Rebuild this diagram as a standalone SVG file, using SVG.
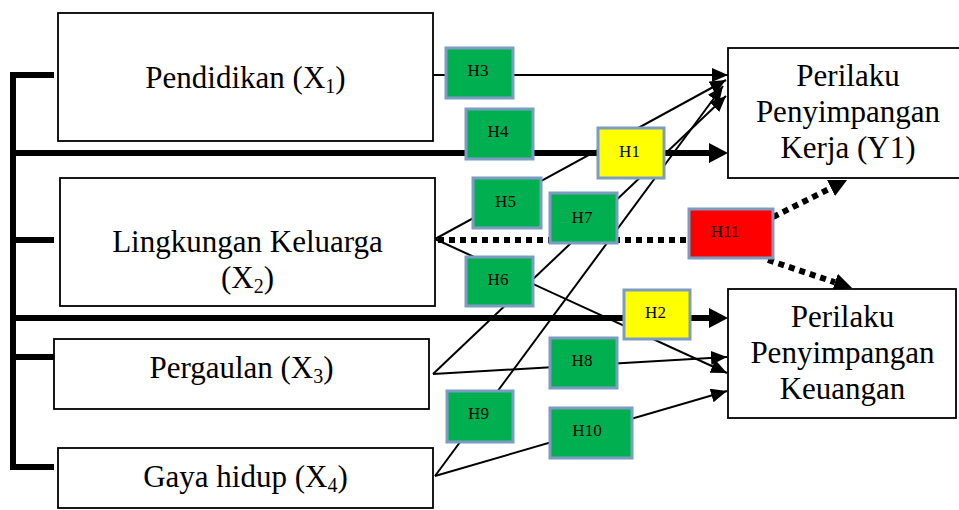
<svg xmlns="http://www.w3.org/2000/svg" width="959" height="510" viewBox="0 0 959 510">
<style>
.node{fill:#fff;stroke:#000;stroke-width:1.8}
.nt{font-family:"Liberation Serif","Times New Roman",serif;font-size:31px;fill:#000;text-anchor:middle}
.hb{stroke:#7d9cc2;stroke-width:3}
.g{fill:#00b050}.y{fill:#ffff00}.r{fill:#ff0000}
.ht{font-family:"Liberation Serif","Times New Roman",serif;font-size:17px;fill:#000;text-anchor:middle}
.thin{stroke:#000;stroke-width:2;fill:none}
.thick{stroke:#000;stroke-width:6;fill:none}
.dot{stroke:#000;stroke-width:6;stroke-dasharray:6 5;fill:none}
</style>
<defs>
<marker id="at" markerUnits="userSpaceOnUse" markerWidth="20" markerHeight="16" refX="16" refY="7" orient="auto">
<path d="M0,0 L16,7 L0,14 z" fill="#000"/>
</marker>
<marker id="ak" markerUnits="userSpaceOnUse" markerWidth="22" markerHeight="22" refX="0" refY="10" orient="auto">
<path d="M0,0 L19,10 L0,20 z" fill="#000"/>
</marker>
<marker id="ad" markerUnits="userSpaceOnUse" markerWidth="22" markerHeight="20" refX="0" refY="9" orient="auto">
<path d="M0,0 L18,9 L0,18 z" fill="#000"/>
</marker>
</defs>

<g id="connectors">
<path class="thick" d="M54,75 H13 V467 H54" stroke-width="5.5" stroke-linejoin="miter"/>
<path class="thick" d="M13,240 H54 M13,357 H54" stroke-width="5.5"/>
<line class="thick" x1="13" y1="153" x2="709" y2="153" marker-end="url(#ak)"/>
<line class="thick" x1="13" y1="318" x2="709" y2="318" marker-end="url(#ak)"/>
<line class="thin" x1="433" y1="75" x2="728" y2="75" marker-end="url(#at)"/>
<line class="thin" x1="435" y1="239" x2="726" y2="80" marker-end="url(#at)"/>
<line class="thin" x1="435" y1="239" x2="727" y2="373" marker-end="url(#at)"/>
<line class="thin" x1="433" y1="374" x2="726" y2="96" marker-end="url(#at)"/>
<line class="thin" x1="433" y1="374" x2="727" y2="357" marker-end="url(#at)"/>
<line class="thin" x1="435" y1="476" x2="723" y2="86" marker-end="url(#at)"/>
<line class="thin" x1="435" y1="476" x2="727" y2="391" marker-end="url(#at)"/>
<line class="dot" x1="438" y1="240" x2="689" y2="240"/>
<line class="dot" x1="773" y1="217" x2="831" y2="188" marker-end="url(#ad)"/>
<line class="dot" x1="768" y1="260" x2="835" y2="282.3" marker-end="url(#ad)"/>
</g>

<g id="x1">
<rect class="node" x="58" y="13" width="375" height="128"/>
<text class="nt" x="245.5" y="88">Pendidikan (X<tspan font-size="20" dy="5">1</tspan><tspan dy="-5">)</tspan></text>
</g>
<g id="x2">
<rect class="node" x="60" y="178" width="375" height="128"/>
<text class="nt" x="247.5" y="252">Lingkungan Keluarga</text>
<text class="nt" x="247.5" y="288">(X<tspan font-size="20" dy="5">2</tspan><tspan dy="-5">)</tspan></text>
</g>
<g id="x3">
<rect class="node" x="54" y="339" width="375" height="70"/>
<text class="nt" x="241.5" y="378">Pergaulan (X<tspan font-size="20" dy="5">3</tspan><tspan dy="-5">)</tspan></text>
</g>
<g id="x4">
<rect class="node" x="58" y="448" width="375" height="60"/>
<text class="nt" x="245.5" y="487">Gaya hidup (X<tspan font-size="20" dy="5">4</tspan><tspan dy="-5">)</tspan></text>
</g>
<g id="y1">
<rect class="node" x="728" y="48" width="235" height="130"/>
<text class="nt" x="848" y="86">Perilaku</text>
<text class="nt" x="848" y="122">Penyimpangan</text>
<text class="nt" x="848" y="158">Kerja (Y1)</text>
</g>
<g id="y2">
<rect class="node" x="728" y="289" width="228" height="129"/>
<text class="nt" x="842.5" y="327">Perilaku</text>
<text class="nt" x="842.5" y="363">Penyimpangan</text>
<text class="nt" x="842.5" y="399">Keuangan</text>
</g>

<g id="h3"><rect class="hb g" x="446" y="48" width="67" height="50"/><text class="ht" x="478" y="76" font-size="16">H3</text></g>
<g id="h4"><rect class="hb g" x="466" y="109" width="67" height="50"/><text class="ht" x="498" y="137">H4</text></g>
<g id="h1"><rect class="hb y" x="598" y="128" width="66" height="50"/><text class="ht" x="629.5" y="157">H1</text></g>
<g id="h5"><rect class="hb g" x="473" y="178" width="68" height="50"/><text class="ht" x="505.5" y="207">H5</text></g>
<g id="h7"><rect class="hb g" x="550" y="193" width="67" height="50"/><text class="ht" x="582" y="223">H7</text></g>
<g id="h11"><rect class="hb r" x="689" y="209" width="84" height="49"/><text class="ht" x="725" y="237">H11</text></g>
<g id="h6"><rect class="hb g" x="466" y="257" width="67" height="49"/><text class="ht" x="498" y="285">H6</text></g>
<g id="h2"><rect class="hb y" x="624" y="290" width="66" height="49"/><text class="ht" x="655.5" y="318">H2</text></g>
<g id="h8"><rect class="hb g" x="550" y="338" width="67" height="50"/><text class="ht" x="582" y="366">H8</text></g>
<g id="h9"><rect class="hb g" x="447" y="391" width="66" height="51"/><text class="ht" x="478.5" y="419">H9</text></g>
<g id="h10"><rect class="hb g" x="550" y="408" width="82" height="50"/><text class="ht" x="587" y="436">H10</text></g>
</svg>
